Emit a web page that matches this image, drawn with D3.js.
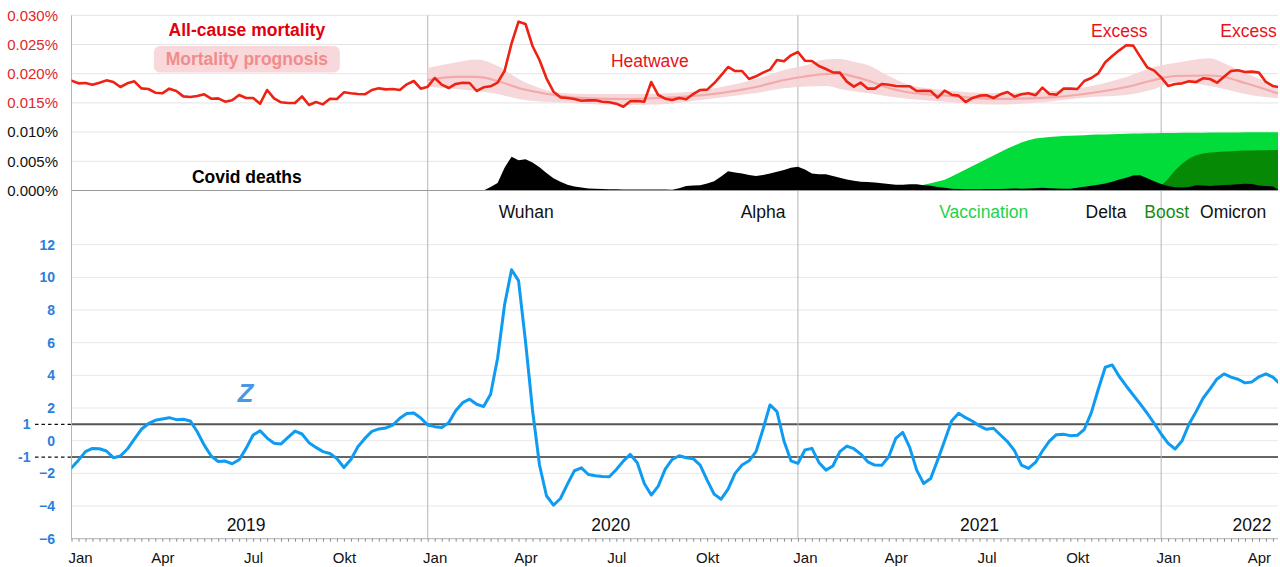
<!DOCTYPE html>
<html>
<head>
<meta charset="utf-8">
<script src="https://cdn.jsdelivr.net/npm/d3@7"></script>
<style>
  html, body { margin: 0; padding: 0; background: #fff; }
  svg { display: block; font-family: "Liberation Sans", Arial, Helvetica, sans-serif; }
</style>
</head>
<body>
<svg id="chart" width="1280" height="567"></svg>
<script>
// ---------------------------------------------------------------
// Weekly series. Week position k counts ISO weeks from 2019-W01 (k = 0);
// the series start at k = 1 (2019-W02) and run to k = 174.
// ---------------------------------------------------------------
const firstWeek = 1;

// All-cause mortality, % of population per week
const mortality = [
  0.01881,0.01835,0.01841,0.01812,0.01846,0.01886,0.01858,0.01772,0.01835,0.01869,
  0.01749,0.01738,0.01675,0.01664,0.01744,0.01704,0.01612,0.01601,0.01618,0.01647,
  0.01572,0.01578,0.01521,0.01544,0.01635,0.01584,0.01584,0.01487,0.01721,0.01578,
  0.01510,0.01498,0.01498,0.01612,0.01464,0.01515,0.01475,0.01572,0.01567,0.01681,
  0.01664,0.01652,0.01647,0.01721,0.01749,0.01732,0.01738,0.01721,0.01818,0.01875,
  0.01744,0.01778,0.01926,0.01812,0.01755,0.01824,0.01846,0.01841,
  0.01704,0.01767,0.01784,0.01846,0.02046,0.02520,0.02891,0.02851,0.02474,0.02235,
  0.01921,0.01692,0.01595,0.01584,0.01567,0.01538,0.01544,0.01544,0.01521,0.01510,
  0.01487,0.01435,0.01527,0.01533,0.01521,0.01858,0.01635,0.01572,0.01550,0.01584,
  0.01561,0.01652,0.01721,0.01727,0.01835,0.01972,0.02115,0.02046,0.02046,0.01909,
  0.01955,0.02018,0.02069,0.02235,0.02212,0.02315,0.02372,0.02223,0.02217,0.02132,
  0.02080,0.02023,0.02018,0.01864,0.01778,0.01846,0.01744,
  0.01744,0.01824,0.01812,0.01789,0.01784,0.01784,0.01704,0.01709,0.01704,0.01590,
  0.01709,0.01641,0.01624,0.01515,0.01584,0.01624,0.01630,0.01584,0.01647,0.01687,
  0.01607,0.01647,0.01664,0.01630,0.01761,0.01652,0.01641,0.01744,0.01744,0.01738,
  0.01875,0.01926,0.02006,0.02195,0.02303,0.02400,0.02486,0.02480,0.02292,0.02109,
  0.02052,0.01938,0.01789,0.01824,0.01835,0.01869,0.01858,0.01921,0.01909,0.01846,
  0.01949,0.02046,0.02058,0.02029,0.02035,0.02018,0.01858,0.01789,0.01767
];

// Excess mortality z-score
const zScore = [
  -1.66,-1.19,-0.67,-0.47,-0.49,-0.63,-1.04,-0.94,-0.51,0.10,
  0.70,1.04,1.25,1.33,1.41,1.29,1.31,1.21,0.55,-0.27,
  -0.94,-1.27,-1.25,-1.41,-1.17,-0.47,0.35,0.61,0.16,-0.16,
  -0.20,0.20,0.59,0.41,-0.12,-0.41,-0.67,-0.78,-1.10,-1.64,
  -1.15,-0.37,0.14,0.57,0.72,0.78,0.96,1.37,1.66,1.70,
  1.39,0.96,0.86,0.80,1.10,1.84,2.33,2.54,
  2.23,2.09,2.84,5.05,8.32,10.47,9.80,6.07,1.88,-1.49,
  -3.37,-3.95,-3.54,-2.66,-1.84,-1.66,-2.07,-2.15,-2.19,-2.21,
  -1.76,-1.25,-0.84,-1.35,-2.62,-3.33,-2.78,-1.74,-1.15,-0.92,
  -1.04,-1.10,-1.49,-2.41,-3.27,-3.58,-2.97,-2.00,-1.49,-1.23,
  -0.67,0.70,2.19,1.78,-0.02,-1.23,-1.39,-0.57,-0.47,-1.33,
  -1.80,-1.55,-0.67,-0.33,-0.49,-0.82,-1.29,
  -1.49,-1.51,-0.98,0.14,0.51,-0.41,-1.80,-2.62,-2.31,-1.19,
  0.00,1.21,1.68,1.41,1.19,0.90,0.70,0.76,0.35,-0.06,
  -0.61,-1.49,-1.70,-1.33,-0.63,-0.02,0.37,0.39,0.31,0.33,
  0.70,1.72,3.15,4.50,4.64,3.93,3.35,2.80,2.25,1.68,
  1.06,0.41,-0.16,-0.51,0.00,1.02,1.78,2.60,3.17,3.78,
  4.09,3.89,3.76,3.54,3.60,3.91,4.09,3.89,3.48
];

// Covid deaths, % of population per week, from week k = 60
const covidStartWeek = 60;
const covidDeaths = [
  0.00000,0.00060,0.00130,0.00390,0.00580,0.00520,0.00535,0.00480,0.00400,0.00300,
  0.00210,0.00150,0.00100,0.00070,0.00050,0.00035,0.00028,0.00024,0.00022,0.00020,
  0.00019,0.00018,0.00018,0.00019,0.00018,0.00017,0.00016,0.00012,0.00040,0.00075,
  0.00085,0.00092,0.00120,0.00160,0.00240,0.00330,0.00310,0.00290,0.00265,0.00250,
  0.00265,0.00290,0.00320,0.00350,0.00390,0.00405,0.00360,0.00290,0.00280,0.00277,
  0.00250,0.00220,0.00190,0.00165,0.00150,0.00145,0.00135,0.00123,0.00110,0.00097,
  0.00100,0.00108,0.00105,0.00092,0.00080,0.00062,0.00045,0.00030,0.00025,0.00022,
  0.00022,0.00022,0.00025,0.00025,0.00027,0.00030,0.00035,0.00030,0.00035,0.00040,
  0.00045,0.00040,0.00035,0.00030,0.00028,0.00045,0.00065,0.00080,0.00100,0.00120,
  0.00150,0.00190,0.00220,0.00255,0.00260,0.00210,0.00160,0.00110,0.00075,0.00055,
  0.00050,0.00060,0.00090,0.00085,0.00078,0.00085,0.00095,0.00100,0.00105,0.00115,
  0.00110,0.00085,0.00075,0.00070,0.00000
];

// Vaccination (primary series), % scale, from week k = 119
const vaccStartWeek = 119;
const vaccination = [
  0.00000,0.00010,0.00035,0.00070,0.00100,0.00125,0.00155,0.00185,0.00240,0.00300,
  0.00360,0.00420,0.00480,0.00540,0.00600,0.00660,0.00720,0.00770,0.00820,0.00860,
  0.00890,0.00905,0.00915,0.00925,0.00932,0.00938,0.00943,0.00948,0.00953,0.00957,
  0.00961,0.00965,0.00968,0.00971,0.00974,0.00977,0.00979,0.00981,0.00983,0.00985,
  0.00986,0.00988,0.00989,0.00990,0.00991,0.00992,0.00993,0.00994,0.00995,0.00995,
  0.00996,0.00996,0.00997,0.00997,0.00998,0.00998
];

// Booster, % scale, from week k = 156
const boostStartWeek = 156;
const boost = [
  0.00000,0.00080,0.00200,0.00345,0.00460,0.00550,0.00605,0.00635,0.00650,0.00660,
  0.00668,0.00674,0.00679,0.00683,0.00686,0.00688,0.00690,0.00692,0.00693
];

// Mortality prognosis: expected value and its band
const prognosisWeeks = [52,56,59,62,65,68,71,75,80,85,90,94,99,103,106,109,111,113,115,118,121,126,133,140,147,152,156,159,164,166,169,174];
const prognosisHigh  = [0.02098,0.02192,0.02243,0.02132,0.01909,0.01755,0.01670,0.01652,0.01652,0.01661,0.01695,0.01772,0.01909,0.02063,0.02140,0.02243,0.02250,0.02205,0.02149,0.01961,0.01807,0.01721,0.01670,0.01692,0.01789,0.01943,0.02115,0.02183,0.02264,0.02178,0.02012,0.01780];
const prognosisMid   = [0.01892,0.01944,0.01944,0.01875,0.01755,0.01678,0.01618,0.01579,0.01567,0.01584,0.01618,0.01670,0.01772,0.01892,0.01952,0.01995,0.02000,0.01950,0.01884,0.01755,0.01678,0.01627,0.01570,0.01587,0.01669,0.01772,0.01892,0.01961,0.01969,0.01943,0.01841,0.01652];
const prognosisLow   = [0.01777,0.01738,0.01704,0.01652,0.01567,0.01524,0.01507,0.01481,0.01464,0.01472,0.01533,0.01592,0.01669,0.01750,0.01780,0.01789,0.01740,0.01700,0.01670,0.01610,0.01567,0.01521,0.01472,0.01510,0.01599,0.01635,0.01738,0.01858,0.01789,0.01738,0.01652,0.01575];

// Calendar: year boundaries (week positions) and axis labels
const yearStartWeeks = [52, 105, 157];
const yearLabels = ["2019", "2020", "2021", "2022"];
const yearLabelWeeks = [26, 78.2, 131, 170];
const monthLabels = ["Jan","Apr","Jul","Okt","Jan","Apr","Jul","Okt","Jan","Apr","Jul","Okt","Jan","Apr"];
const monthWeeks  = [1, 14, 27, 40, 53, 66, 79, 92, 106, 119, 132, 145, 158, 171];

// Axis ticks
const pctTicks = [0, 0.005, 0.010, 0.015, 0.020, 0.025, 0.030];
const zTicks = [-6, -4, -2, 0, 2, 4, 6, 8, 10, 12];
const zBands = [1, -1];

// Text annotations in the upper panel (week position of their centre)
const notes = [
  { text: "Heatwave", week: 83.8,  row: "top" },
  { text: "Excess",   week: 151.0, row: "top2" },
  { text: "Excess",   week: 169.5, row: "top2" }
];
const phases = [
  { text: "Wuhan",       week: 66.1,  color: "#111" },
  { text: "Alpha",       week: 100.0, color: "#111" },
  { text: "Vaccination", week: 131.6, color: "#1fd24a" },
  { text: "Delta",       week: 149.1, color: "#111" },
  { text: "Boost",       week: 157.8, color: "#148c14" },
  { text: "Omicron",     week: 167.3, color: "#111" }
];

// ---------------------------------------------------------------
const svg = d3.select("#chart");
const left = 71.5, right = 1278;

const x = d3.scaleLinear().domain([1, 174]).range([71.5, 1279.9]);
const yTop = d3.scaleLinear().domain([0, 0.030]).range([190.5, 15.3]);
const yZ = d3.scaleLinear().domain([-6, 12]).range([538.7, 244.7]);

svg.append("defs").append("clipPath").attr("id", "plot")
  .append("rect").attr("x", left).attr("y", 0).attr("width", right - left).attr("height", 567);

const weekOf = (start) => (d, i) => x(start + i);

// ---- upper panel grid and axis ----
svg.append("g").selectAll("line").data(pctTicks.filter(d => d > 0)).join("line")
  .attr("x1", left).attr("x2", right)
  .attr("y1", d => yTop(d)).attr("y2", d => yTop(d))
  .attr("stroke", "#e4e4e4").attr("stroke-width", 1);

const topAxis = svg.append("g").attr("transform", `translate(58,0)`)
  .call(d3.axisLeft(yTop).tickValues(pctTicks).tickSize(0).tickPadding(0)
    .tickFormat(d => d3.format(".3f")(d) + "%"));
topAxis.select(".domain").remove();
topAxis.selectAll("text")
  .attr("font-size", 15).attr("font-family", "Liberation Sans, Arial, sans-serif")
  .attr("fill", d => d >= 0.015 ? "#e2262b" : "#111");

// ---- lower panel grid and axis ----
svg.append("g").selectAll("line").data(zTicks.filter(d => d > -6)).join("line")
  .attr("x1", left).attr("x2", right)
  .attr("y1", d => yZ(d)).attr("y2", d => yZ(d))
  .attr("stroke", "#e8e8e8").attr("stroke-width", 1);

const zAxis = svg.append("g").attr("transform", `translate(55,0)`)
  .call(d3.axisLeft(yZ).tickValues(zTicks).tickSize(0).tickPadding(0));
zAxis.select(".domain").remove();
zAxis.selectAll("text")
  .attr("font-size", 14).attr("font-weight", "bold")
  .attr("font-family", "Liberation Sans, Arial, sans-serif")
  .attr("fill", "#2b7fdc");

// +1 / -1 reference lines
const bandG = svg.append("g");
bandG.selectAll("line.ref").data(zBands).join("line").attr("class", "ref")
  .attr("x1", left).attr("x2", right)
  .attr("y1", d => yZ(d)).attr("y2", d => yZ(d))
  .attr("stroke", d => d > 0 ? "#555" : "#333")
  .attr("stroke-width", d => d > 0 ? 2 : 1.4);
bandG.selectAll("line.dash").data(zBands).join("line").attr("class", "dash")
  .attr("x1", 35).attr("x2", left)
  .attr("y1", d => yZ(d)).attr("y2", d => yZ(d))
  .attr("stroke", "#111").attr("stroke-width", 1.3).attr("stroke-dasharray", "3.5,3");
bandG.selectAll("text").data(zBands).join("text")
  .attr("x", 30.5).attr("y", d => yZ(d)).attr("dy", "0.35em")
  .attr("text-anchor", "end").attr("font-size", 14).attr("font-weight", "bold")
  .attr("fill", "#2b7fdc").text(d => d);

// ---- vertical frame and year separators ----
svg.append("line").attr("x1", left).attr("x2", left).attr("y1", 15.3).attr("y2", yZ(-6))
  .attr("stroke", "#b5b5b5").attr("stroke-width", 1);
svg.append("g").selectAll("line").data(yearStartWeeks).join("line")
  .attr("x1", d => x(d)).attr("x2", d => x(d))
  .attr("y1", 15.3).attr("y2", yZ(-6))
  .attr("stroke", "#b5b5b5").attr("stroke-width", 1);

// ---- upper panel marks ----
const plotTop = svg.append("g").attr("clip-path", "url(#plot)");

// vaccination, booster, covid deaths (stacked in drawing order)
const areaFrom = (start) => d3.area()
  .x(weekOf(start)).y0(yTop(0)).y1(d => yTop(d));
plotTop.append("path").datum(vaccination).attr("d", areaFrom(vaccStartWeek)).attr("fill", "#02dc3b");
plotTop.append("path").datum(boost).attr("d", areaFrom(boostStartWeek)).attr("fill", "#068a06");
plotTop.append("path").datum(covidDeaths).attr("d", areaFrom(covidStartWeek)).attr("fill", "#000");

// prognosis band and expected line
const prog = prognosisWeeks.map((w, i) => ({ w, lo: prognosisLow[i], mid: prognosisMid[i], hi: prognosisHigh[i] }));
plotTop.append("path").datum(prog)
  .attr("d", d3.area().x(d => x(d.w)).y0(d => yTop(d.lo)).y1(d => yTop(d.hi)).curve(d3.curveMonotoneX))
  .attr("fill", "#f5d3d6").attr("opacity", 0.9);
plotTop.append("path").datum(prog)
  .attr("d", d3.line().x(d => x(d.w)).y(d => yTop(d.mid)).curve(d3.curveMonotoneX))
  .attr("fill", "none").attr("stroke", "#f4a9a9").attr("stroke-width", 2.2);

// 0 baseline of the upper panel
svg.append("line").attr("x1", left).attr("x2", right).attr("y1", yTop(0)).attr("y2", yTop(0))
  .attr("stroke", "#9a9a9a").attr("stroke-width", 1);

// all-cause mortality
plotTop.append("path").datum(mortality)
  .attr("d", d3.line().x(weekOf(firstWeek)).y(d => yTop(d)))
  .attr("fill", "none").attr("stroke", "#ee2213").attr("stroke-width", 2.6)
  .attr("stroke-linejoin", "round").attr("stroke-linecap", "round");

// ---- lower panel marks ----
const plotBottom = svg.append("g").attr("clip-path", "url(#plot)");
plotBottom.append("path").datum(zScore)
  .attr("d", d3.line().x(weekOf(firstWeek)).y(d => yZ(d)))
  .attr("fill", "none").attr("stroke", "#0e9bf2").attr("stroke-width", 3)
  .attr("stroke-linejoin", "round").attr("stroke-linecap", "round");

// ---- time axis ----
const weekAxis = svg.append("g").attr("transform", `translate(0,${yZ(-6)})`)
  .call(d3.axisBottom(x).tickValues(d3.range(1, 174)).tickSize(3).tickSizeOuter(0).tickFormat(""));
weekAxis.select(".domain").attr("stroke", "#b0b0b0").attr("d", `M${left},0H${right}`);
weekAxis.selectAll(".tick line").attr("stroke", "#8a8a8a");

const monthAxis = svg.append("g").attr("transform", `translate(0,${yZ(-6)})`)
  .call(d3.axisBottom(x).tickValues(monthWeeks).tickSize(0).tickPadding(14)
    .tickFormat((d, i) => monthLabels[i]));
monthAxis.select(".domain").remove();
monthAxis.selectAll("text")
  .attr("font-size", 15).attr("fill", "#111")
  .attr("font-family", "Liberation Sans, Arial, sans-serif");
monthAxis.selectAll("text").filter((d, i) => i === 0).attr("text-anchor", "start").attr("dx", "-3.5");

svg.append("g").selectAll("text").data(yearLabels).join("text")
  .attr("x", (d, i) => x(yearLabelWeeks[i])).attr("y", 530.5)
  .attr("text-anchor", "middle").attr("font-size", 17.5).attr("fill", "#111")
  .text(d => d);

// ---- titles and annotations ----
const legendWeek = 26.1;
svg.append("text").attr("x", x(legendWeek)).attr("y", 36)
  .attr("text-anchor", "middle").attr("font-size", 17.5).attr("font-weight", "bold")
  .attr("fill", "#e3000e").text("All-cause mortality");

const progLabel = svg.append("g");
progLabel.append("rect").attr("x", x(legendWeek) - 93).attr("y", 46).attr("width", 186).attr("height", 26.5)
  .attr("rx", 6).attr("fill", "#f8d8da");
progLabel.append("text").attr("x", x(legendWeek)).attr("y", 65)
  .attr("text-anchor", "middle").attr("font-size", 17.5).attr("font-weight", "bold")
  .attr("fill", "#f28c8c").text("Mortality prognosis");

svg.append("text").attr("x", x(legendWeek)).attr("y", 183.3)
  .attr("text-anchor", "middle").attr("font-size", 17.5).attr("font-weight", "bold")
  .attr("fill", "#000").text("Covid deaths");

svg.append("g").selectAll("text").data(notes).join("text")
  .attr("x", d => x(d.week)).attr("y", d => d.row === "top" ? 67.3 : 36.7)
  .attr("text-anchor", "middle").attr("font-size", 17.5).attr("fill", "#e8121a")
  .text(d => d.text);

svg.append("g").selectAll("text").data(phases).join("text")
  .attr("x", d => x(d.week)).attr("y", 217.5)
  .attr("text-anchor", "middle").attr("font-size", 17.5).attr("fill", d => d.color)
  .text(d => d.text);

svg.append("text").attr("x", x(25.9)).attr("y", yZ(2.39))
  .attr("text-anchor", "middle").attr("font-size", 25.5).attr("font-weight", "bold")
  .attr("font-style", "italic").attr("fill", "#4a97e6").text("Z");
</script>
</body>
</html>
